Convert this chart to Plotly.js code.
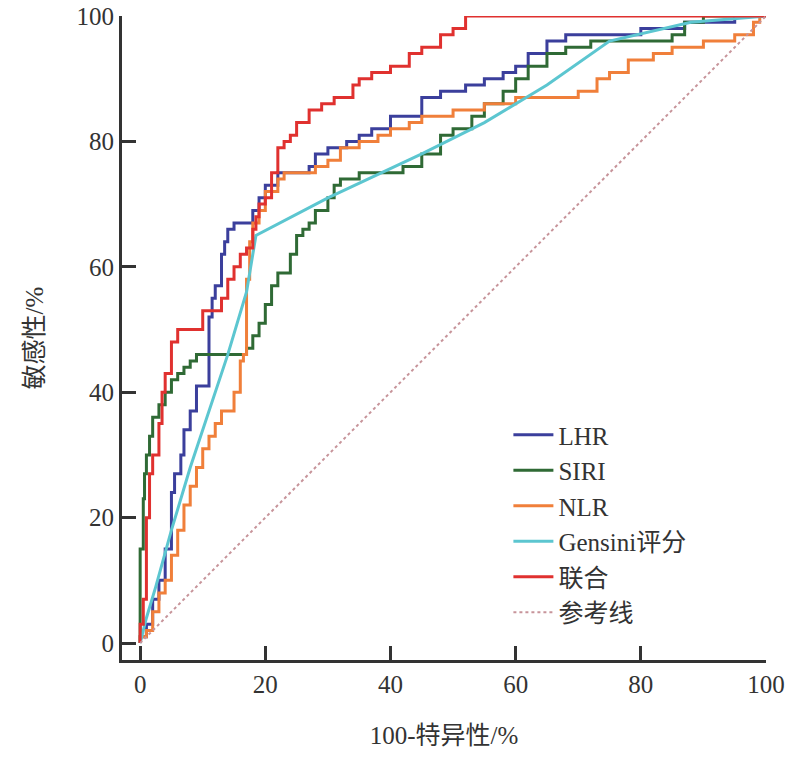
<!DOCTYPE html>
<html>
<head>
<meta charset="utf-8">
<script src="https://cdn.plot.ly/plotly-3.0.1.min.js"></script>
<style>html,body{margin:0;padding:0;background:#fff;}</style>
</head>
<body>
<div id="chart" style="width:788px;height:762px;"></div>
<script>
// ROC curves
const lhrX = [0,1,2,3,4,5,5.5,6.5,7,8,9,11,11.5,12,13,13.5,14,15,16,18,19,20,22,24,27,28,30,33,35,37,40,45,48,52,55,58,60,62,65,68,70,80,87,95,96,100];
const lhrY = [0,1,3,7,10,15,24,27,30,34,37,41,52,55,57,62,64,66,67,67,69,71,73,75,75,76,78,79,80,81,82,84,87,88,89,90,91,92,94,96,97,97,98,99,100,100];
const siriX = [0,0.5,0.7,1,1.5,2,3,4,5,6,7,8,9,11,17,18,19,20,21,22,24,25,26,27,28,30,31,32,35,38,42,45,48,50,53,55,58,60,62,65,68,72,80,85,87,90,93,100];
const siriY = [0,15,23,27,30,33,36,38,40,42,43,44,45,46,46,47,49,51,54,57,59,62,65,66,67,69,71,73,74,75,75,76,78,81,82,84,86,88,90,92,94,95,96,96,97,99,100,100];
const nlrX = [0,1,2,3,4,5,6,7,8,9,10,11,12,13,15,16,16.5,17,17.5,18,19,20,22,23,25,28,30,32,35,38,40,43,45,50,55,60,65,70,73,75,78,80,82,85,90,95,98,99,100];
const nlrY = [0,1,2,5,8,10,14,18,22,25,28,31,33,35,37,40,45,46,58,64,67,69,72,74,75,75,76,77,79,80,81,82,83,84,85,86,87,87,88,90,91,93,93,94,95,96,97,99,100];
const gensiniX = [0,1,2.5,5,8,11,14,17,18.5,30,45,55,65,75,88,100];
const gensiniY = [0,4,9,18,28,37,46,56,65,71,78,83,89,96,99,100];
const combX = [0,0.5,1,1.5,2,3,3.5,4,5,6,6.5,10,11,13,14,15,16,17,18,18.5,19,20,21,22,23,24,25,27,29,31,34,35,37,40,43,45,48,50,52,55,100];
const combY = [0,3,7,20,27,30,35,40,43,48,50,50,53,53,55,58,60,62,63,66,68,70,71,75,79,80,81,83,85,86,87,89,90,91,92,94,95,97,98,100,100];
const refX = [0,100];
const refY = [0,100];

const names = ['LHR','SIRI','NLR','Gensini评分','联合','参考线'];
const colors = ['#3b3f9c','#2f6a35','#f07f3a','#5cc6d0','#e0312f','#c7949a'];

const FONT = '"Liberation Serif", "DejaVu Serif", "Noto Sans CJK SC", serif';

function step(x, y, i) {
  return { x: x, y: y, name: names[i], mode: 'lines',
    line: { color: colors[i], width: 3, shape: 'vh' } };
}

const traces = [
  step(lhrX, lhrY, 0),
  step(siriX, siriY, 1),
  step(nlrX, nlrY, 2),
  { x: gensiniX, y: gensiniY, name: names[3], mode: 'lines',
    line: { color: colors[3], width: 3 } },
  step(combX, combY, 4),
  { x: refX, y: refY, name: names[5], mode: 'lines',
    line: { color: colors[5], width: 2, dash: 'dot' } }
];

const layout = {
  width: 788, height: 762,
  margin: { l: 122, r: 22, t: 16, b: 102 },
  font: { family: FONT, size: 25, color: '#333' },
  paper_bgcolor: '#fff', plot_bgcolor: '#fff',
  xaxis: {
    range: [-2.9, 100], tickvals: [0,20,40,60,80,100],
    ticks: 'inside', ticklen: 14, tickwidth: 3, tickcolor: '#333',
    showline: true, linewidth: 3, linecolor: '#333',
    showgrid: false, zeroline: false,
    title: { text: '100-特异性/%', standoff: 30, font: { size: 25 } }
  },
  yaxis: {
    range: [-2.7, 100], tickvals: [0,20,40,60,80,100],
    ticks: 'inside', ticklen: 14, tickwidth: 3, tickcolor: '#333',
    showline: true, linewidth: 3, linecolor: '#333',
    showgrid: false, zeroline: false,
    title: { text: '敏感性/%', standoff: 26, font: { size: 25 } }
  },
  showlegend: true,
  legend: { x: 0.6, y: 0.385, xanchor: 'left', yanchor: 'top',
    bgcolor: 'rgba(0,0,0,0)', font: { size: 25, color: '#333' },
    tracegroupgap: 0, itemwidth: 40 }
};

Plotly.newPlot('chart', traces, layout, { displayModeBar: false, staticPlot: true });
</script>
</body>
</html>
